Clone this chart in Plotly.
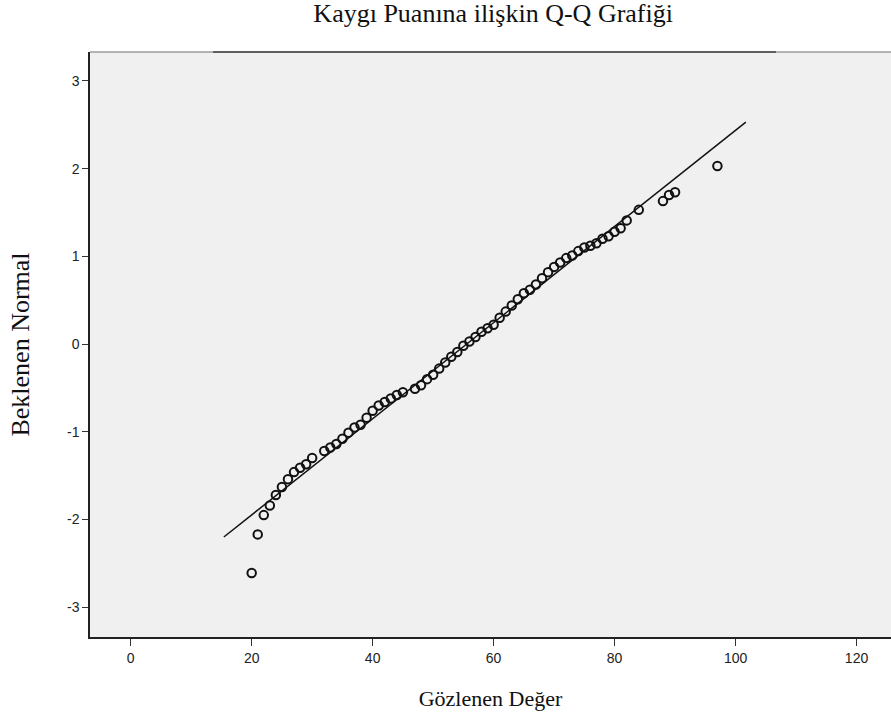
import plotly.graph_objects as go

# Observed scores (distinct values) and expected normal quantiles
observed = [20, 21, 22, 23, 24, 25, 26, 27, 28, 29, 30, 32, 33, 34, 35, 36, 37, 38, 39, 40,
            41, 42, 43, 44, 45, 47, 48, 49, 50, 51, 52, 53, 54, 55, 56, 57, 58, 59, 60, 61,
            62, 63, 64, 65, 66, 67, 68, 69, 70, 71, 72, 73, 74, 75, 76, 77, 78, 79, 80, 81,
            82, 84, 88, 89, 90, 97]
expected = [-2.61, -2.17, -1.95, -1.84, -1.72, -1.63, -1.54, -1.46, -1.41, -1.37, -1.30,
            -1.22, -1.18, -1.14, -1.08, -1.01, -0.95, -0.92, -0.84, -0.76, -0.70, -0.66,
            -0.62, -0.58, -0.55, -0.51, -0.47, -0.40, -0.35, -0.28, -0.21, -0.145, -0.09,
            -0.02, 0.03, 0.08, 0.14, 0.18, 0.22, 0.30, 0.37, 0.44, 0.51, 0.58, 0.62, 0.68,
            0.75, 0.82, 0.88, 0.93, 0.98, 1.01, 1.06, 1.10, 1.12, 1.15, 1.20, 1.23, 1.28,
            1.32, 1.41, 1.53, 1.63, 1.70, 1.73, 2.03]

# Reference normal line endpoints
line_x = [15.4, 101.7]
line_y = [-2.2, 2.53]

x_ticks = [0, 20, 40, 60, 80, 100, 120]
x_ticktext = ["0", "20", "40", "60", "80", "100", "120"]
y_ticks = [-3, -2, -1, 0, 1, 2, 3]
y_ticktext = ["-3", "-2", "-1", "0", "1", "2", "3"]

title_text = "Kaygı Puanına ilişkin Q-Q Grafiği"
x_title = "Gözlenen Değer"
y_title = "Beklenen Normal"

fig = go.Figure()
fig.add_trace(go.Scatter(
    x=line_x, y=line_y, mode="lines",
    line=dict(color="#111111", width=1.5),
    hoverinfo="skip", showlegend=False,
))
fig.add_trace(go.Scatter(
    x=observed, y=expected, mode="markers",
    marker=dict(symbol="circle-open", size=8.5, color="#111111",
                line=dict(width=2.0, color="#111111")),
    showlegend=False,
))

W, H = 891, 720
L, R, T, B = 90, 0, 52, 83

fig.update_layout(
    width=W, height=H,
    margin=dict(l=L, r=R, t=T, b=B, pad=0),
    paper_bgcolor="white",
    plot_bgcolor="#f0f0f0",
    title=dict(text=title_text, x=(L + (W - R)) / 2 / W + 0.003, xanchor="center",
               y=1 - 13 / H, yanchor="middle", yref="container",
               font=dict(family="Liberation Serif", size=26, color="#111111")),
    font=dict(family="Liberation Sans", size=14, color="#222222"),
    xaxis=dict(
        range=[-6.73, 125.7], tickmode="array", tickvals=x_ticks, ticktext=x_ticktext,
        showgrid=False, zeroline=False, showline=True, linecolor="#222222", linewidth=1.5,
        ticks="outside", ticklen=7, tickwidth=1.3, tickcolor="#333333",
        tickfont=dict(family="Liberation Sans", size=14, color="#222222"),
        title=dict(text=x_title, standoff=26,
                   font=dict(family="Liberation Serif", size=22, color="#111111")),
    ),
    yaxis=dict(
        range=[-3.34, 3.33], tickmode="array", tickvals=y_ticks, ticktext=y_ticktext,
        showgrid=False, zeroline=False, showline=True, linecolor="#222222", linewidth=1.5,
        ticks="outside", ticklen=6, tickwidth=1.3, tickcolor="#333333",
        tickfont=dict(family="Liberation Sans", size=14, color="#222222"),
        title=dict(text=y_title, standoff=30,
                   font=dict(family="Liberation Serif", size=26, color="#111111")),
    ),
    shapes=[
        dict(type="line", xref="paper", yref="paper", x0=0, x1=1, y0=1, y1=1,
             line=dict(color="#9c9c9c", width=1.5)),
        dict(type="line", xref="paper", yref="paper", x0=0.1536, x1=0.8564, y0=1, y1=1,
             line=dict(color="#5e5e5e", width=1.8)),
    ],
)

fig.write_html("out.html")
